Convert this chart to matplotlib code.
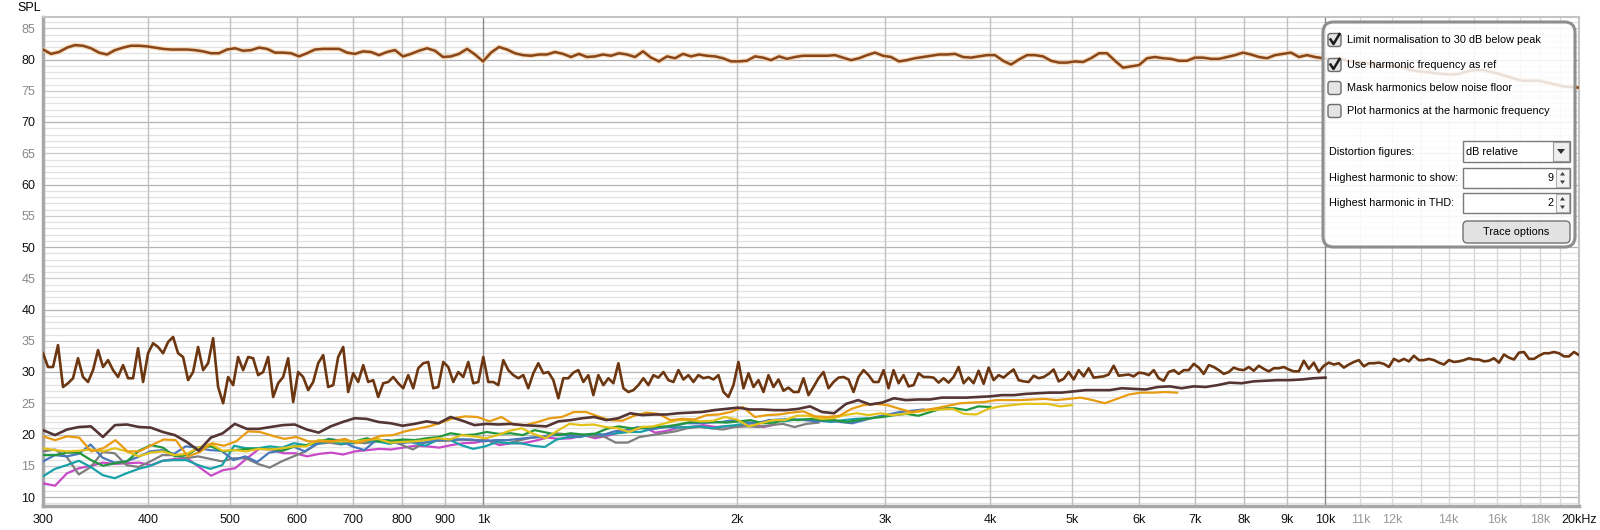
import numpy as np
import matplotlib
matplotlib.use("Agg")
import matplotlib.pyplot as plt
from matplotlib.patches import FancyBboxPatch, Rectangle, Polygon
from matplotlib.lines import Line2D

plt.rcParams['font.family'] = ['Liberation Sans', 'DejaVu Sans']

# fundamental, 300 Hz .. 20 kHz, log spaced points (dB SPL)
fund_spl = [
    81.6, 80.9, 81.2, 81.9, 82.3, 82.2, 81.8, 81.1, 80.8, 81.5,
    81.9, 82.2, 82.2, 82.1, 81.9, 81.7, 81.6, 81.6, 81.6, 81.5,
    81.3, 81.0, 81.0, 81.6, 81.8, 81.4, 81.5, 81.9, 81.7, 81.1,
    81.1, 81.0, 80.5, 81.0, 81.6, 81.7, 81.7, 81.7, 81.1, 80.9,
    81.3, 81.2, 80.7, 81.2, 81.5, 80.5, 80.9, 81.4, 81.8, 81.4,
    80.4, 80.5, 80.9, 81.7, 80.8, 79.7, 81.1, 82.0, 81.6, 81.0,
    80.7, 80.6, 80.8, 80.8, 81.2, 80.9, 80.4, 80.9, 80.4, 80.5,
    80.8, 80.6, 81.0, 80.8, 80.4, 81.3, 80.3, 79.7, 80.5, 80.2,
    80.9, 80.5, 80.8, 80.6, 80.5, 80.2, 79.7, 79.7, 79.8, 80.5,
    80.3, 79.9, 80.5, 80.1, 80.4, 80.6, 80.6,
    80.6, 80.6, 80.7, 80.3, 79.9, 80.2, 80.7, 81.1, 80.6, 80.4,
    79.7, 79.9, 80.2, 80.4, 80.6, 80.8, 80.8, 80.9, 80.4, 80.3,
    80.5, 80.7, 80.7, 79.8, 79.2, 80.0, 80.7, 80.7, 80.5, 79.8,
    79.5, 79.5, 79.7, 79.6, 80.2, 81.0, 81.0, 79.8, 78.7, 78.9,
    79.1, 80.2, 80.4, 80.2, 80.1, 79.8, 79.8, 80.3, 80.3, 80.1,
    80.1, 80.4, 80.7, 81.1, 80.8, 80.4, 80.2, 80.7, 80.9, 81.1,
    80.4, 80.7, 80.4, 80.2, 80.0, 80.2, 79.8, 79.6, 79.5, 79.3,
    79.1, 79.0, 78.9, 78.7, 78.3, 78.1, 78.0, 77.8, 77.7, 77.6,
    77.7, 78.1, 78.3, 78.3, 78.0, 77.7, 77.3, 76.9, 76.6, 76.6,
    76.6, 76.3, 76.0, 75.7, 75.6, 75.5,
]

# noise trace, 300 Hz .. 20 kHz
noise_spl = [
    33.0, 30.8, 30.8, 34.3, 27.6, 28.2, 29.0, 32.2, 29.2, 28.4,
    30.3, 33.5, 30.8, 31.9, 30.3, 29.2, 31.1, 29.0, 29.0, 33.8,
    28.4, 33.0, 34.6, 34.0, 33.0, 34.8, 35.6, 33.0, 32.4, 28.7,
    30.0, 34.0, 30.3, 31.4, 35.4, 27.6, 25.0, 29.2, 27.9, 32.4,
    30.3, 32.4, 32.2, 29.5, 30.0, 32.4, 26.0, 28.2, 29.2, 32.2,
    25.2, 30.0, 29.2, 27.1, 28.4, 31.4, 32.7, 27.6, 27.9, 32.4,
    34.0, 26.8, 29.8, 28.4, 31.1, 28.4, 28.7, 26.0, 28.2, 28.4,
    29.2, 28.2, 27.4, 29.5, 27.4, 30.6, 31.4, 31.6,
    27.4, 27.6, 31.6, 30.8, 28.4, 30.0, 29.2, 31.6, 28.2, 28.4,
    32.4, 28.4, 28.4, 27.9, 31.9, 30.3, 29.5, 29.0, 29.5, 27.4,
    29.8, 31.4, 29.8, 30.0, 28.7, 25.8, 29.0, 29.0, 29.9, 30.3,
    28.4, 29.5, 26.3, 29.5, 27.9, 29.0, 28.2, 31.4, 27.4, 26.8,
    27.1, 27.9, 29.0, 27.9, 29.5, 29.1, 30.0, 28.7, 28.4, 30.3,
    28.8, 29.5, 28.4, 29.5, 29.0, 29.2, 28.8, 29.5, 26.8, 26.0,
    27.9, 31.6, 27.4, 29.8, 27.6, 28.7, 26.8, 29.5, 27.6, 28.8,
    27.0, 27.5, 26.8, 26.8, 29.0, 26.3, 27.6, 29.0,
    30.0, 27.4, 28.4, 29.1, 29.2, 28.8, 26.8, 29.2, 30.3, 29.5,
    28.4, 28.4, 30.3, 27.4, 30.3, 28.2, 29.5, 27.7, 27.9, 29.8,
    29.2, 29.2, 29.1, 28.3, 29.0, 28.3, 29.2, 30.8, 28.2, 29.1,
    28.2, 30.2, 28.1, 30.7, 28.7, 29.5, 29.1, 29.8, 30.4, 28.7,
    28.5, 28.4, 29.4, 29.0, 29.2, 29.7, 30.4, 28.5, 28.9, 30.0,
    28.8, 30.3, 29.3, 30.6, 29.1, 29.2, 29.3, 29.6, 31.0, 29.4,
    29.5, 29.6, 29.3, 29.9, 29.8, 29.5, 30.3, 29.0, 28.6, 30.0,
    30.3, 29.7, 30.3, 30.3, 31.3, 30.7, 29.7,
    31.1, 30.8, 30.3, 29.7, 30.0, 30.7, 30.4, 30.3, 30.8, 30.2,
    31.0, 30.5, 30.1, 30.6, 30.6, 30.8, 30.4, 30.1, 30.1, 31.8,
    30.5, 31.5, 30.0, 31.0, 31.5, 31.2, 31.4, 30.7, 31.2, 31.6,
    31.9, 30.9, 31.4, 31.4, 31.5, 31.3, 30.8, 32.1, 31.7, 32.1,
    31.7, 32.6, 31.9, 31.9, 32.1, 31.9, 31.5, 31.2, 31.9, 31.6,
    31.7, 31.9, 32.2, 32.0, 32.0, 31.7, 31.8, 32.2, 31.5, 32.8,
    32.3, 32.0, 33.1, 33.2, 32.1, 32.1, 32.6, 33.0, 33.0, 33.2,
    33.0, 32.5, 32.5, 33.2, 32.7,
]

# harmonics H2..H9, each from 300 Hz up to its end frequency
h2_spl = [
    20.7, 19.9, 20.8, 21.2, 21.3, 19.6, 21.5, 21.6, 21.2, 21.1,
    20.4, 19.9, 18.8, 17.4, 19.5, 20.2, 21.7, 20.9, 20.9, 21.2,
    21.5, 21.6, 20.8, 20.3, 21.3, 22.0, 22.6, 22.5, 22.0, 21.8,
    21.4, 21.7, 22.1, 21.8, 22.8, 22.2, 21.5, 21.7, 21.6, 21.7,
    21.5, 21.4, 21.3, 22.1, 22.3, 22.6, 22.8, 22.3, 22.6, 23.4,
    23.1, 23.2, 23.2, 23.4, 23.5, 23.6, 23.9, 24.1, 24.3, 24.0,
    24.0, 23.9, 23.9, 24.1, 24.5, 23.6, 23.4, 24.9, 25.5, 24.8,
    25.1, 25.8, 25.5, 25.6, 25.6, 25.9, 25.9, 25.9, 26.0, 26.1,
    26.3, 26.3, 26.5, 26.6, 26.7, 26.7, 26.9, 27.1, 27.1, 27.1,
    27.4, 27.3, 27.2, 27.6, 27.7, 27.4, 27.7, 27.6, 27.9, 28.3,
    28.2, 28.5, 28.6, 28.7, 28.7, 28.8, 29.0, 29.1,
]
h3_spl = [
    19.7, 19.1, 19.7, 19.5, 17.3, 17.8, 19.1, 17.3, 17.3, 18.3,
    19.2, 19.1, 16.5, 17.2, 18.6, 18.2, 18.9, 20.5, 20.4, 19.8,
    19.3, 19.6, 18.9, 18.9, 18.9, 19.3, 18.6, 19.1, 19.8, 19.9,
    20.5, 20.9, 21.3, 21.9, 22.6, 22.9, 22.8, 22.1, 22.8, 21.6,
    21.5, 22.0, 22.6, 22.8, 23.6, 23.6, 22.9, 22.3, 22.2, 23.0,
    23.5, 23.3, 22.3, 22.5, 22.4, 23.1, 23.2, 23.6, 24.4, 22.8,
    23.1, 23.2, 23.5, 23.7, 22.9, 22.8, 23.0, 24.1, 24.7, 24.9,
    24.7, 24.1, 23.6, 23.9, 24.2, 24.6, 25.0, 25.1, 25.2, 25.5,
    25.5, 25.5, 25.6, 25.7, 25.5, 25.7, 25.9, 25.5, 25.0, 25.7,
    26.4, 26.7, 26.7, 26.8, 26.7,
]
h4_spl = [
    17.8, 17.5, 17.3, 17.4, 17.6, 17.3, 17.8, 17.3, 16.5, 17.1,
    17.3, 16.7, 16.9, 17.9, 18.5, 17.4, 17.5, 17.3, 17.7, 17.6,
    17.8, 18.1, 18.1, 19.1, 18.9, 18.9, 18.9, 19.1, 19.3, 18.7,
    18.8, 18.9, 19.1, 19.4, 19.2, 19.9, 19.7, 19.4, 19.9, 20.6,
    21.0, 20.1, 19.4, 20.6, 21.7, 21.5, 21.6, 21.2, 21.0, 20.4,
    21.2, 21.3, 21.8, 22.3, 22.3, 22.1, 22.2, 22.8, 22.4, 21.3,
    21.8, 22.3, 22.3, 23.0, 23.0, 22.5, 22.6, 23.1, 23.4, 23.1,
    23.4, 23.1, 23.3, 23.6, 23.9, 24.0, 24.1, 23.3, 23.2, 24.1,
    24.5, 24.7, 24.9, 24.9, 24.9, 24.5, 24.7,
]
h5_spl = [
    16.7, 16.7, 17.1, 17.1, 15.9, 15.0, 15.4, 15.7, 17.4, 18.3,
    17.9, 16.5, 16.7, 17.9, 18.1, 17.3, 17.5, 17.7, 17.7, 17.7,
    17.4, 18.1, 18.3, 19.0, 19.2, 18.9, 18.9, 19.4, 18.9, 19.0,
    19.2, 19.1, 19.4, 19.6, 20.2, 19.9, 20.0, 20.4, 20.1, 20.2,
    19.9, 20.7, 20.3, 19.9, 20.2, 20.0, 20.1, 20.9, 21.3, 21.0,
    21.0, 21.2, 21.3, 21.6, 22.0, 22.0, 22.0, 21.9, 22.1, 22.3,
    21.8, 21.9, 22.4, 22.3, 22.5, 22.3, 22.3, 22.0, 22.3, 22.6,
    22.8, 23.1, 23.3, 23.0, 23.6, 24.2, 24.2, 23.9, 24.5, 24.4,
]
h6_spl = [
    15.7, 16.7, 16.5, 16.9, 18.4, 16.3, 15.5, 15.7, 16.4, 17.3,
    17.5, 16.9, 18.1, 17.9, 17.5, 17.4, 15.9, 16.5, 15.6, 17.1,
    17.4, 18.1, 17.3, 18.5, 19.3, 19.0, 18.1, 17.5, 19.1, 19.1,
    18.6, 18.8, 18.7, 19.1, 19.2, 19.2, 19.2, 18.9, 19.1, 19.1,
    19.3, 19.5, 19.6, 19.9, 19.9, 19.6, 20.1, 19.9, 20.5, 20.7,
    21.2, 20.8, 21.1, 21.3, 21.8, 21.8, 21.9, 22.0, 22.3, 22.0,
    21.8, 22.3, 22.4, 22.4, 22.3, 22.1, 22.3, 22.0, 21.8, 22.3,
    22.8, 23.2, 23.6, 23.8, 24.0,
]
h7_spl = [
    13.3, 14.5, 15.1, 15.8, 14.8, 13.5, 13.0, 13.8, 14.5, 15.0,
    15.8, 15.9, 15.9, 15.1, 14.5, 15.1, 18.2, 17.8, 17.8, 18.1,
    17.9, 18.6, 18.3, 18.5, 19.0, 18.5, 18.6, 18.9, 18.9, 18.5,
    19.0, 18.7, 18.2, 19.1, 19.2, 18.3, 17.7, 18.1, 18.8, 18.6,
    18.6, 18.2, 18.0, 19.2, 19.6, 19.6, 20.1, 20.0, 20.2, 20.4,
    20.4, 20.9, 21.2, 21.1, 21.2, 21.3, 21.0, 21.3, 21.5, 21.8,
    21.9, 22.3, 22.1, 22.4, 22.4, 22.2, 22.0, 22.3, 22.5, 22.6,
]
h8_spl = [
    17.3, 17.6, 16.4, 13.6, 14.8, 17.2, 17.0, 15.1, 14.8, 15.7,
    16.7, 16.7, 16.2, 16.5, 16.1, 15.7, 16.2, 16.2, 15.3, 14.7,
    15.7, 16.5, 17.3, 18.5, 18.7, 18.4, 18.8, 18.6, 18.9, 19.0,
    18.4, 17.6, 18.7, 19.0, 19.0, 19.2, 19.1, 19.1, 18.8, 18.6,
    19.1, 19.5, 19.7, 20.2, 20.0, 19.9, 19.7, 19.7, 18.7, 18.7,
    19.6, 19.9, 20.2, 20.5, 21.0, 21.2, 21.0, 20.8, 21.2, 21.3,
    21.2, 21.5, 21.7, 21.2, 21.7, 21.9,
]
h9_spl = [
    12.2, 11.8, 13.8, 14.6, 15.0, 15.5, 15.3, 15.4, 15.5, 15.1,
    15.8, 16.1, 16.2, 14.8, 13.4, 14.3, 14.6, 16.2, 17.7, 17.6,
    17.0, 17.0, 16.5, 16.9, 17.1, 16.8, 17.3, 17.5, 17.7, 17.6,
    17.9, 18.2, 18.1, 17.9, 18.3, 18.6, 18.7, 19.1, 18.3, 18.6,
    18.6, 19.0, 19.5, 19.3, 19.4, 19.9, 19.4, 19.8, 20.3, 20.5,
    21.2, 20.3, 20.6, 21.1, 21.2, 21.5, 21.2, 21.3, 21.4, 21.8,
    21.2, 21.6,
]

harmonics = [h2_spl, h3_spl, h4_spl, h5_spl, h6_spl, h7_spl, h8_spl, h9_spl]
harm_end = [10000, 6667, 5000, 4000, 3333, 2857, 2500, 2222]
harm_colors = ['#553434', '#e89c12', '#e2c21a', '#22983e',
               '#4a78bc', '#18a2a8', '#7e7e7e', '#c84ac8']

x_tick_freqs = [300, 400, 500, 600, 700, 800, 900, 1000, 2000, 3000, 4000,
                5000, 6000, 7000, 8000, 9000, 10000, 11000, 12000, 14000,
                16000, 18000, 20000]
x_tick_labels = ['300', '400', '500', '600', '700', '800', '900', '1k', '2k',
                 '3k', '4k', '5k', '6k', '7k', '8k', '9k', '10k', '11k', '12k',
                 '14k', '16k', '18k', '20kHz']
x_grid_freqs = [400, 500, 600, 700, 800, 900, 1000, 2000, 3000, 4000, 5000,
                6000, 7000, 8000, 9000, 10000, 11000, 12000, 13000, 14000,
                15000, 16000, 17000, 18000, 19000]
y_ticks = list(range(10, 86, 5))

W, H = 1600, 530
fig = plt.figure(figsize=(16, 5.3), dpi=100)
fig.patch.set_facecolor('white')
ax = fig.add_axes([43 / W, 1 - 506 / H, 1536 / W, 489 / H])
ax.set_xscale('log')
ax.set_xlim(300, 20000)
ax.set_ylim(8.56, 86.8)

for v in range(9, 87):
    if v % 10 == 0:
        c = '#b4b4b4'
    elif v % 5 == 0:
        c = '#cccccc'
    else:
        c = '#e2e2e2'
    ax.axhline(v, color=c, lw=0.9, zorder=0)
for f in x_grid_freqs:
    if f in (1000, 10000):
        c = '#8a8a8a'
    elif f > 10000:
        c = '#d8d8d8'
    else:
        c = '#c0c0c0'
    ax.axvline(f, color=c, lw=1.0, zorder=0)

for vals, fend, col in reversed(list(zip(harmonics, harm_end, harm_colors))):
    fr = np.geomspace(300, fend, len(vals))
    lw = 1.9 if col == '#553434' else 1.6
    ax.plot(fr, vals, color=col, lw=lw, zorder=3)

fr = np.geomspace(300, 20000, len(noise_spl))
ax.plot(fr, noise_spl, color='#6c3610', lw=1.9, zorder=4)

fr = np.geomspace(300, 20000, len(fund_spl))
ax.plot(fr, fund_spl, color='#f5cfa6', lw=3.6, alpha=0.7, zorder=4)
ax.plot(fr, fund_spl, color='#884619', lw=1.8, zorder=5)

ax.xaxis.set_minor_locator(matplotlib.ticker.NullLocator())
ax.yaxis.set_minor_locator(matplotlib.ticker.NullLocator())
ax.set_xticks(x_tick_freqs)
ax.set_xticklabels(x_tick_labels, fontsize=9)
for lbl, f in zip(ax.get_xticklabels(), x_tick_freqs):
    lbl.set_color('#999999' if 10000 < f < 20000 else '#111111')
ax.set_yticks(y_ticks)
ax.set_yticklabels([str(v) for v in y_ticks], fontsize=9)
for lbl, v in zip(ax.get_yticklabels(), y_ticks):
    lbl.set_color('#111111' if v % 10 == 0 else '#888888')
ax.tick_params(length=0, pad=5.5)

for s in ['left', 'bottom']:
    ax.spines[s].set_color('#a8a8a8')
    ax.spines[s].set_linewidth(2.5)
for s in ['top', 'right']:
    ax.spines[s].set_color('#c4c4c4')
    ax.spines[s].set_linewidth(1.5)

fig.text(17 / W, 1 - 8 / H, 'SPL', fontsize=9, va='center', ha='left')


def fbox(x0, y0, x1, y1):
    return (x0 / W, 1 - y1 / H), (x1 - x0) / W, (y1 - y0) / H


def fpt(x, y):
    return x / W, 1 - y / H


tf = fig.transFigure
xy, w, h = fbox(1323, 22, 1575, 247)
fig.add_artist(FancyBboxPatch(xy, w, h, boxstyle='round,pad=0,rounding_size=0.0065',
                              mutation_aspect=W / H, transform=tf,
                              facecolor=(1, 1, 1, 0.84), edgecolor='#8e8e8e',
                              lw=2.2, zorder=10))

checks = [('Limit normalisation to 30 dB below peak', True, 40),
          ('Use harmonic frequency as ref', True, 65),
          ('Mask harmonics below noise floor', False, 88),
          ('Plot harmonics at the harmonic frequency', False, 111)]
for txt, on, cy in checks:
    xy, w, h = fbox(1328, cy - 6.5, 1341, cy + 6.5)
    fig.add_artist(FancyBboxPatch(xy, w, h, boxstyle='round,pad=0,rounding_size=0.0015',
                                  mutation_aspect=W / H, transform=tf,
                                  facecolor='#e4e4e4', edgecolor='#6c6c6c',
                                  lw=1.0, zorder=11))
    if on:
        xs, ys = zip(fpt(1330.5, cy - 0.5), fpt(1333.5, cy + 4), fpt(1339.5, cy - 6))
        fig.add_artist(Line2D(xs, ys, transform=tf, color='#1a1a1a', lw=1.8, zorder=12))
    fig.text(*fpt(1347, cy), txt, fontsize=7.8, va='center', ha='left', zorder=12)

fig.text(*fpt(1329, 152), 'Distortion figures:', fontsize=7.8, va='center', zorder=12)
xy, w, h = fbox(1463, 141, 1570, 162)
fig.add_artist(Rectangle(xy, w, h, transform=tf, facecolor='white',
                         edgecolor='#7a7a7a', lw=1.0, zorder=11))
xy, w, h = fbox(1553, 142, 1569, 161)
fig.add_artist(Rectangle(xy, w, h, transform=tf, facecolor='#efefef',
                         edgecolor='#9a9a9a', lw=0.8, zorder=11))
fig.add_artist(Polygon([fpt(1557, 149), fpt(1565, 149), fpt(1561, 154)],
                       transform=tf, facecolor='#303030', edgecolor='none', zorder=12))
fig.text(*fpt(1466, 152), 'dB relative', fontsize=7.8, va='center', zorder=12)

spins = [('Highest harmonic to show:', '9', 178),
         ('Highest harmonic in THD:', '2', 203)]
for txt, val, cy in spins:
    fig.text(*fpt(1329, cy), txt, fontsize=7.8, va='center', zorder=12)
    xy, w, h = fbox(1463, cy - 10, 1570, cy + 10)
    fig.add_artist(Rectangle(xy, w, h, transform=tf, facecolor='white',
                             edgecolor='#7a7a7a', lw=1.0, zorder=11))
    xy, w, h = fbox(1556, cy - 9, 1569, cy + 9)
    fig.add_artist(Rectangle(xy, w, h, transform=tf, facecolor='#f2f2f2',
                             edgecolor='#a8a8a8', lw=0.7, zorder=11))
    fig.add_artist(Polygon([fpt(1560, cy - 2.5), fpt(1565, cy - 2.5), fpt(1562.5, cy - 6)],
                           transform=tf, facecolor='#404040', edgecolor='none', zorder=12))
    fig.add_artist(Polygon([fpt(1560, cy + 2.5), fpt(1565, cy + 2.5), fpt(1562.5, cy + 6)],
                           transform=tf, facecolor='#404040', edgecolor='none', zorder=12))
    fig.text(*fpt(1553, cy), val, fontsize=7.8, va='center', ha='right', zorder=12)

xy, w, h = fbox(1463, 221, 1570, 243)
fig.add_artist(FancyBboxPatch(xy, w, h, boxstyle='round,pad=0,rounding_size=0.0028',
                              mutation_aspect=W / H, transform=tf,
                              facecolor='#e2e2e2', edgecolor='#737373',
                              lw=1.0, zorder=11))
fig.text(*fpt(1516.5, 232), 'Trace options', fontsize=7.8, va='center',
         ha='center', zorder=12)

fig.savefig('out.png', dpi=100, facecolor='white')
